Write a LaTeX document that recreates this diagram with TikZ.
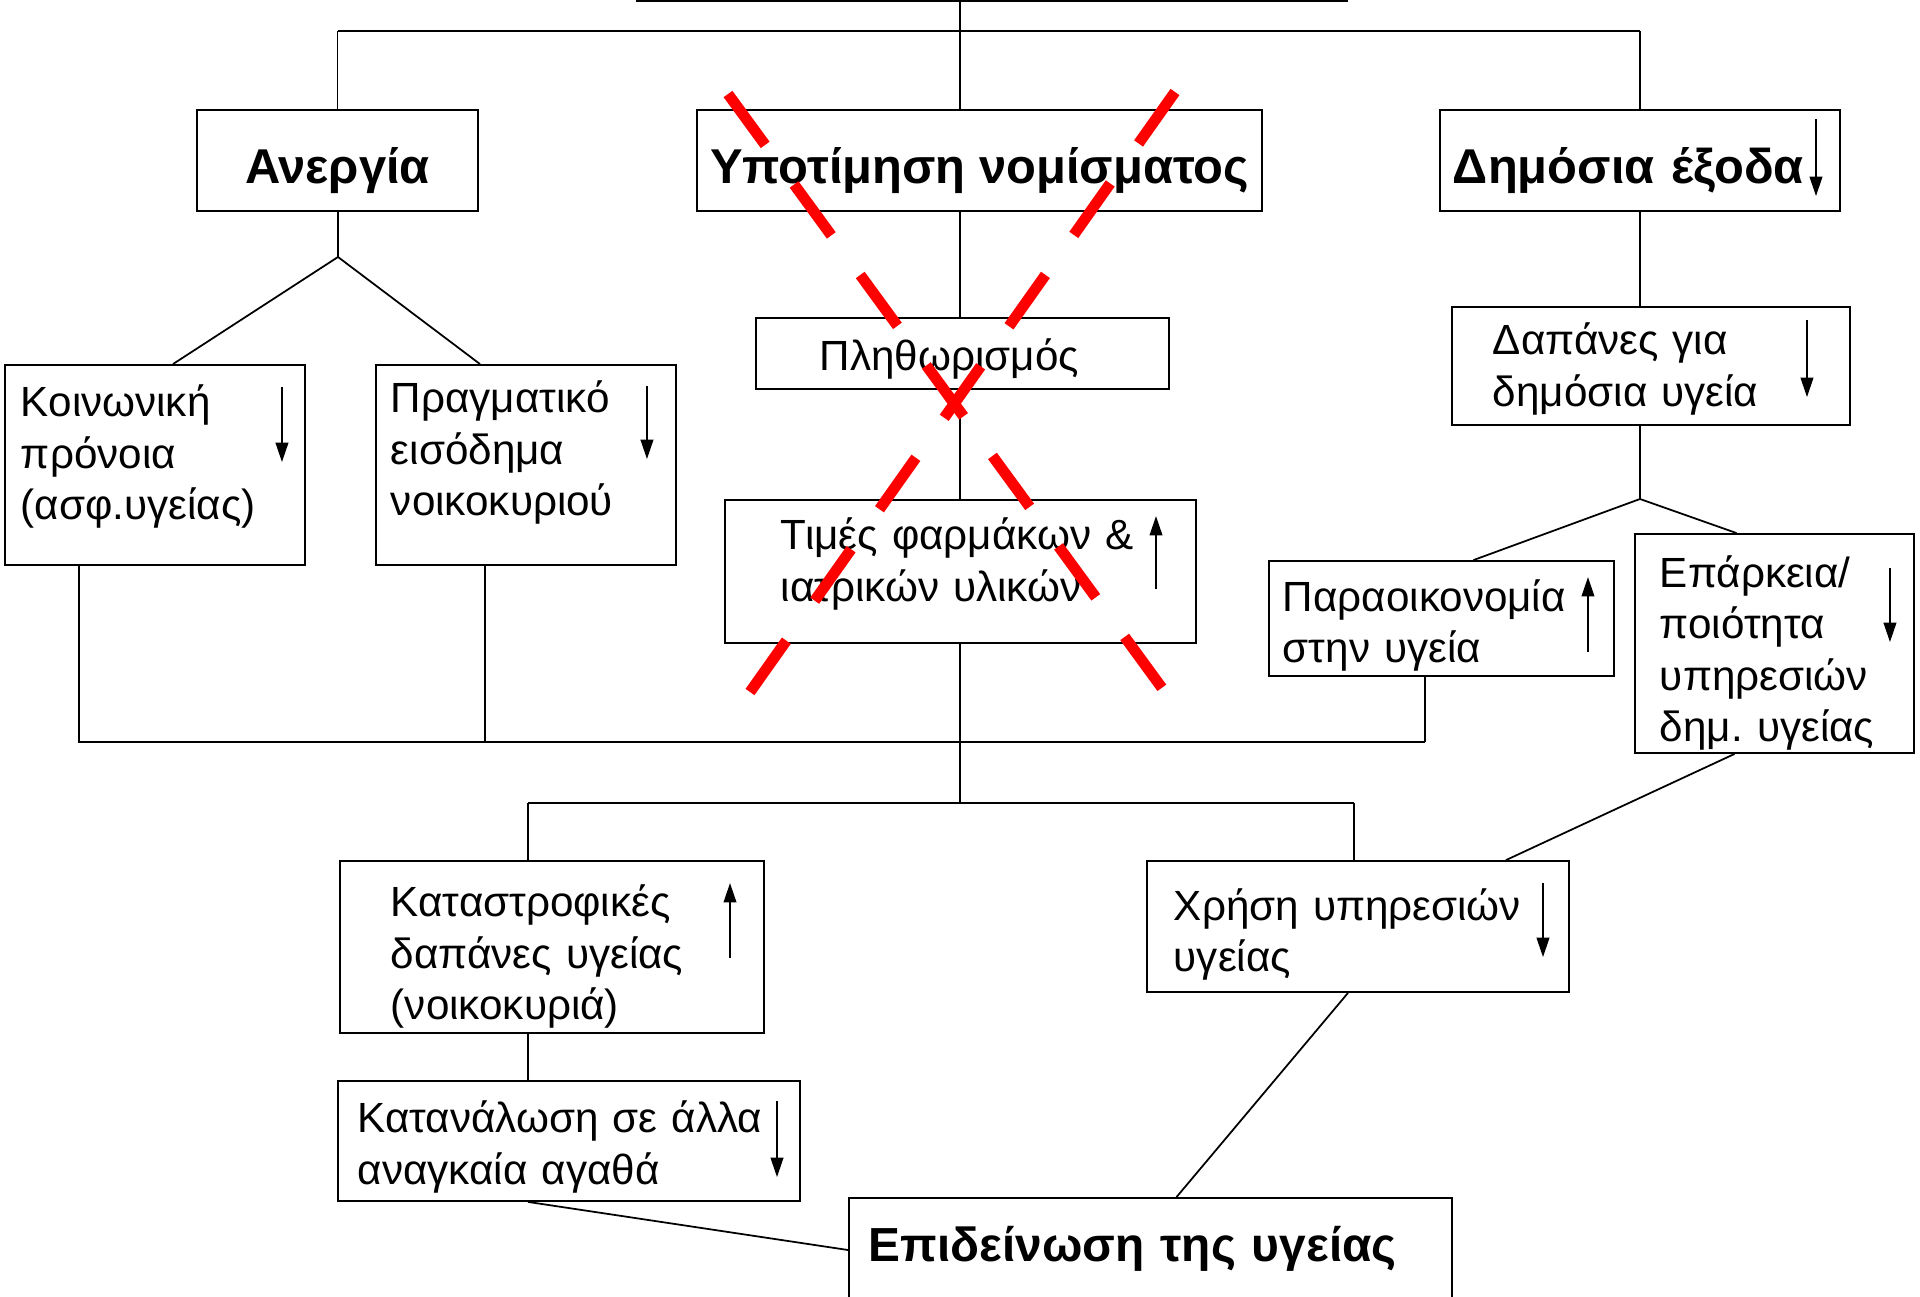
\documentclass[tikz,border=0pt]{standalone}
\usepackage{fontspec}
\setmainfont{Liberation Sans}
\usetikzlibrary{calc,arrows.meta}

\begin{document}
\begin{tikzpicture}[x=0.01cm,y=-0.01cm,line width=0.5pt,>={Triangle[length=5.5pt,width=3.6pt]}]
\tikzstyle{headbox} = [rectangle, draw=black, inner sep=0pt, align=center, font=\fontsize{13.9}{17}\selectfont\bfseries]
\tikzstyle{factor} = [rectangle, draw=black, inner sep=0pt, align=left, font=\fontsize{12}{14.6}\selectfont]
\tikzstyle{outcome} = [rectangle, draw=black, inner sep=0pt, align=left, font=\fontsize{13.6}{17}\selectfont\bfseries]
\tikzstyle{cross} = [red, line width=3.1pt, dash pattern=on 0.63cm off 0.49cm]

\useasboundingbox (0,0) rectangle (1920,1297);

\node(top) [headbox, minimum width=7.1cm, minimum height=0.8cm] at (992,-39) {};
\node(aner) [headbox, text height=0.45cm, text depth=0cm, minimum width=2.81cm, minimum height=1.01cm] at (337.5,160.5) {Ανεργία};
\node(ypot) [headbox, text height=0.45cm, text depth=0cm, minimum width=5.65cm, minimum height=1.01cm] at (979.5,160.5) {Υποτίμηση νομίσματος};
\node(dimex) [headbox, align=left, text width=3.74cm, text height=0.45cm, text depth=0cm, minimum width=4cm, minimum height=1.01cm] at (1640,160.5) {Δημόσια έξοδα};
\node(plith) [factor, text width=2.85cm, text height=0.33cm, text depth=0cm, minimum width=4.13cm, minimum height=0.71cm] at (962.5,353.5) {Πληθωρισμός};
\node(times) [factor, text width=3.59cm, text height=0cm, text depth=0.43cm, minimum width=4.71cm, minimum height=1.43cm] at (960.5,571.5) {Τιμές~φαρμάκων~\&\\ιατρικών υλικών};
\node(koin) [factor, text width=2.68cm, text height=0cm, text depth=0.96cm, minimum width=3cm, minimum height=2cm] at (155,465) {Κοινωνική\\πρόνοια\\(ασφ.υγείας)};
\node(prag) [factor, text width=2.7cm, text height=0cm, text depth=1.04cm, minimum width=3cm, minimum height=2cm] at (526,465) {Πραγματικό\\εισόδημα\\νοικοκυριού};
\node(dapan) [factor, text width=3.16cm, text height=0cm, text depth=0.22cm, minimum width=3.98cm, minimum height=1.18cm] at (1651,366) {Δαπάνες για\\δημόσια υγεία};
\node(parao) [factor, text width=3.17cm, text height=0cm, text depth=0.14cm, minimum width=3.45cm, minimum height=1.15cm] at (1441.5,618.5) {Παραοικονομία\\στην υγεία};
\node(epark) [factor, text width=2.29cm, text height=0cm, text depth=1.12cm, minimum width=2.79cm, minimum height=2.19cm] at (1774.5,643.5) {Επάρκεια/\\ποιότητα\\υπηρεσιών\\δημ.~υγείας};
\node(katast) [factor, text width=3.22cm, text height=0cm, text depth=0.6cm, minimum width=4.24cm, minimum height=1.72cm] at (552,947) {Καταστροφικές\\δαπάνες υγείας\\(νοικοκυριά)};
\node(katan) [factor, text width=4.22cm, text height=0cm, text depth=0.16cm, minimum width=4.62cm, minimum height=1.2cm] at (569,1141) {Κατανάλωση~σε~άλλα\\αναγκαία αγαθά};
\node(xrisi) [factor, text width=3.68cm, text height=0cm, text depth=0.13cm, minimum width=4.22cm, minimum height=1.31cm] at (1358,926.5) {Χρήση~υπηρεσιών\\υγείας};
\node(epid) [outcome, text width=5.63cm, text height=0.22cm, text depth=0cm, minimum width=6.03cm, minimum height=1.04cm] at (1150.5,1250) {Επιδείνωση της υγείας};

\coordinate (hub) at (960,31);
\coordinate (splitA) at (338,257);
\coordinate (splitR) at (1640,499);
\coordinate (busL) at (79,742);
\coordinate (busP) at (485,742);
\coordinate (busR) at (1425,742);
\coordinate (forkL) at (528,803);
\coordinate (fork) at (960,803);
\coordinate (forkR) at (1354,803);

\draw (top.south -| hub) -- (hub);
\draw (aner.north |- hub) -- (dimex.north |- hub);
\draw (aner.north |- hub) -- (aner.north);
\draw (hub) -- (ypot.north -| hub);
\draw (dimex.north |- hub) -- (dimex.north);
\draw (aner.south -| splitA) -- (splitA);
\draw (splitA) -- ($(koin.north)+(18,0)$);
\draw (splitA) -- ($(prag.north)+(-46,0)$);
\draw (ypot.south -| hub) -- (plith.north -| hub);
\draw (plith.south -| hub) -- (times.north -| hub);
\draw (times.south -| hub) -- (fork);
\draw (koin.south -| busL) -- (busL) -- (busR);
\draw (prag.south -| busP) -- (busP);
\draw (parao.south -| busR) -- (busR);
\draw (forkL) -- (forkR);
\draw (forkL) -- (katast.north -| forkL);
\draw (forkR) -- (xrisi.north -| forkR);
\draw (katast.south -| forkL) -- (katan.north -| forkL);
\draw (katan.south -| forkL) -- (epid.west);
\draw ($(xrisi.south)+(-10,0)$) -- ($(epid.north)+(26,0)$);
\draw ($(epark.south)+(-40,0)$) -- ($(xrisi.north)+(148,0)$);
\draw (dimex.south) -- (dimex.south |- dapan.north);
\draw (dapan.south -| splitR) -- (splitR);
\draw (splitR) -- ($(parao.north)+(32,0)$);
\draw (splitR) -- ($(epark.north)+(-38,0)$);

% up / down trends
\draw[->] ($(dimex.north east)+(-25,10)$) -- ($(dimex.north east)+(-25,87)$);
\draw[->] ($(koin.north east)+(-24,23)$) -- ($(koin.north east)+(-24,98)$);
\draw[->] ($(prag.north east)+(-30,22)$) -- ($(prag.north east)+(-30,95)$);
\draw[->] ($(times.north east)+(-41,90)$) -- ($(times.north east)+(-41,17)$);
\draw[->] ($(dapan.north east)+(-44,14)$) -- ($(dapan.north east)+(-44,91)$);
\draw[->] ($(parao.north east)+(-27,92)$) -- ($(parao.north east)+(-27,17)$);
\draw[->] ($(epark.north east)+(-25,35)$) -- ($(epark.north east)+(-25,109)$);
\draw[->] ($(katast.north east)+(-35,98)$) -- ($(katast.north east)+(-35,23)$);
\draw[->] ($(katan.north east)+(-24,21)$) -- ($(katan.north east)+(-24,97)$);
\draw[->] ($(xrisi.north east)+(-27,23)$) -- ($(xrisi.north east)+(-27,97)$);

% crossed out
\draw[cross] (728,94) -- (1162,688);
\draw[cross] (1175,92) -- (750,692);
\end{tikzpicture}
\end{document}
